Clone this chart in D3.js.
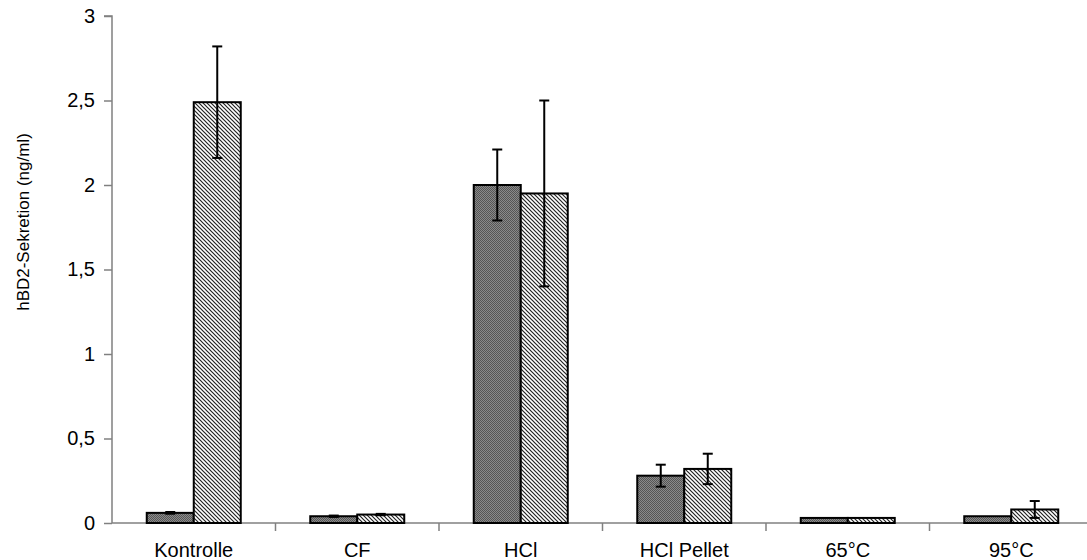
<!DOCTYPE html>
<html>
<head>
<meta charset="utf-8">
<script src="https://cdn.jsdelivr.net/npm/d3@7"></script>
<style>
  body { margin: 0; background: #fff; }
  text { font-family: "Liberation Sans", Arial, sans-serif; fill: #000; }
</style>
</head>
<body>
<script>
const categories = ["Kontrolle", "CF", "HCl", "HCl Pellet", "65°C", "95°C"];
const darkValues = [0.06, 0.04, 2.0, 0.28, 0.03, 0.04];
const darkErrors = [0.005, 0.004, 0.21, 0.065, 0, 0];
const hatchValues = [2.49, 0.05, 1.95, 0.32, 0.03, 0.08];
const hatchErrors = [0.33, 0.004, 0.55, 0.09, 0, 0.05];
const yTicks = [0, 0.5, 1, 1.5, 2, 2.5, 3];

const w = 1087, h = 560;

const svg = d3.select("body").append("svg")
    .attr("width", w)
    .attr("height", h);

const defs = svg.append("defs");

// fine checker for the dark bars
const dots = defs.append("pattern")
    .attr("id", "dots")
    .attr("patternUnits", "userSpaceOnUse")
    .attr("width", 2).attr("height", 2);
dots.append("rect").attr("width", 2).attr("height", 2).attr("fill", "#8a8a8a");
dots.append("rect").attr("width", 1).attr("height", 1).attr("fill", "#555");
dots.append("rect").attr("x", 1).attr("y", 1).attr("width", 1).attr("height", 1).attr("fill", "#555");

// diagonal hatch for the light bars
const hatch = defs.append("pattern")
    .attr("id", "hatch")
    .attr("patternUnits", "userSpaceOnUse")
    .attr("width", 4).attr("height", 4);
hatch.append("rect").attr("width", 4).attr("height", 4).attr("fill", "#fff");
hatch.append("path")
    .attr("d", "M-1,-1 L5,5 M-1,3 L1,5 M3,-1 L5,1")
    .attr("stroke", "#222")
    .attr("stroke-width", 1.2);

const x = d3.scaleBand()
    .domain(categories)
    .range([112, 1093])
    .paddingInner(0)
    .paddingOuter(0);

const y = d3.scaleLinear()
    .domain([0, 3])
    .range([523, 16]);

const barW = 47;

// y axis
const yAxis = svg.append("g")
    .attr("transform", "translate(112,0)")
    .call(d3.axisLeft(y).tickValues(yTicks).tickSize(8).tickPadding(9)
        .tickFormat(d => String(d).replace(".", ",")));
yAxis.selectAll("path, line").attr("stroke", "#808080").attr("stroke-width", 1.5);
yAxis.selectAll("text").style("font-size", "20px");
yAxis.select(".domain").attr("d", "M-8," + y(3) + "H0V" + y(0));

// x axis
const xAxis = svg.append("g")
    .attr("transform", "translate(0,523)");
xAxis.append("line")
    .attr("x1", 112).attr("x2", 1093)
    .attr("stroke", "#808080").attr("stroke-width", 1.5);
xAxis.selectAll("line.tick")
    .data(categories.slice(1))
    .join("line")
    .attr("class", "tick")
    .attr("x1", d => x(d)).attr("x2", d => x(d))
    .attr("y1", 0).attr("y2", 8)
    .attr("stroke", "#808080").attr("stroke-width", 1.5);
xAxis.selectAll("text")
    .data(categories)
    .join("text")
    .attr("x", d => x(d) + x.bandwidth() / 2)
    .attr("y", 34)
    .attr("text-anchor", "middle")
    .style("font-size", "20px")
    .text(d => d);

// y title
svg.append("text")
    .attr("transform", "translate(29,222) rotate(-90)")
    .attr("text-anchor", "middle")
    .style("font-size", "17px")
    .text("hBD2-Sekretion (ng/ml)");

const series = [
    { vals: darkValues, errs: darkErrors, fill: "url(#dots)", off: -barW },
    { vals: hatchValues, errs: hatchErrors, fill: "url(#hatch)", off: 0 }
];

series.forEach(s => {
    svg.append("g")
        .selectAll("rect")
        .data(categories)
        .join("rect")
        .attr("x", d => x(d) + x.bandwidth() / 2 + s.off)
        .attr("y", (d, i) => y(s.vals[i]))
        .attr("width", barW)
        .attr("height", (d, i) => y(0) - y(s.vals[i]))
        .attr("fill", s.fill)
        .attr("stroke", "#000")
        .attr("stroke-width", 2);
});

// error bars
series.forEach(s => {
    const g = svg.append("g").attr("stroke", "#000").attr("stroke-width", 2);
    categories.forEach((c, i) => {
        if (s.errs[i] <= 0) return;
        const cx = x(c) + x.bandwidth() / 2 + s.off + barW / 2;
        const lo = y(s.vals[i] - s.errs[i]), hi = y(s.vals[i] + s.errs[i]);
        g.append("line").attr("x1", cx).attr("x2", cx).attr("y1", lo).attr("y2", hi);
        g.append("line").attr("x1", cx - 5).attr("x2", cx + 5).attr("y1", lo).attr("y2", lo);
        g.append("line").attr("x1", cx - 5).attr("x2", cx + 5).attr("y1", hi).attr("y2", hi);
    });
});
</script>
</body>
</html>
